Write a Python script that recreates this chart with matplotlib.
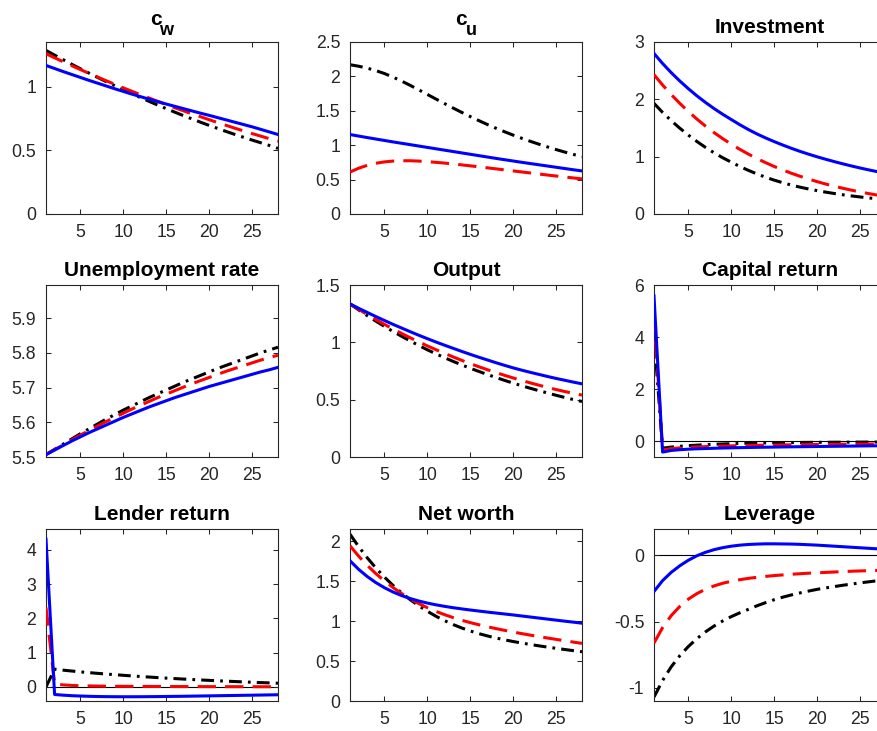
import numpy as np
import matplotlib
matplotlib.use('Agg')
import matplotlib.pyplot as plt

plt.rcParams['font.family'] = ['Liberation Sans', 'DejaVu Sans']
plt.rcParams['axes.unicode_minus'] = False

periods = list(range(1, 29))

# c_w
cw_blue = [1.166, 1.142, 1.118, 1.095, 1.072, 1.049, 1.027, 1.005, 0.983, 0.962, 0.941, 0.921, 0.901, 0.882,
           0.863, 0.845, 0.827, 0.809, 0.791, 0.774, 0.756, 0.738, 0.720, 0.702, 0.684, 0.664, 0.644, 0.624]
cw_red = [1.258, 1.226, 1.195, 1.164, 1.134, 1.104, 1.075, 1.046, 1.018, 0.990, 0.963, 0.936, 0.910, 0.884,
          0.859, 0.834, 0.810, 0.786, 0.763, 0.740, 0.717, 0.695, 0.673, 0.652, 0.631, 0.611, 0.591, 0.571]
cw_black = [1.284, 1.247, 1.211, 1.175, 1.140, 1.106, 1.072, 1.039, 1.007, 0.975, 0.944, 0.914, 0.884, 0.855,
            0.827, 0.799, 0.772, 0.746, 0.720, 0.695, 0.671, 0.647, 0.624, 0.602, 0.580, 0.559, 0.538, 0.515]

# c_u
cu_blue = [1.155, 1.133, 1.111, 1.090, 1.069, 1.048, 1.028, 1.008, 0.988, 0.968, 0.948, 0.928, 0.908, 0.888,
           0.868, 0.848, 0.828, 0.808, 0.789, 0.770, 0.751, 0.733, 0.715, 0.697, 0.679, 0.661, 0.643, 0.626]
cu_red = [0.610, 0.665, 0.707, 0.737, 0.757, 0.769, 0.774, 0.774, 0.769, 0.761, 0.751, 0.740, 0.727, 0.714,
          0.700, 0.686, 0.671, 0.656, 0.641, 0.626, 0.611, 0.596, 0.581, 0.566, 0.552, 0.538, 0.524, 0.510]
cu_black = [2.170, 2.148, 2.120, 2.085, 2.042, 1.990, 1.932, 1.870, 1.805, 1.738, 1.671, 1.605, 1.540, 1.477,
            1.416, 1.357, 1.300, 1.246, 1.195, 1.146, 1.100, 1.056, 1.014, 0.974, 0.936, 0.900, 0.866, 0.834]

# Investment
inv_blue = [2.800, 2.625, 2.466, 2.320, 2.185, 2.060, 1.945, 1.838, 1.739, 1.647, 1.556, 1.472, 1.395, 1.326,
            1.262, 1.202, 1.145, 1.092, 1.043, 0.997, 0.954, 0.913, 0.874, 0.837, 0.802, 0.769, 0.738, 0.709]
inv_red = [2.430, 2.250, 2.084, 1.930, 1.787, 1.655, 1.532, 1.419, 1.314, 1.217, 1.127, 1.043, 0.966, 0.895,
           0.828, 0.767, 0.710, 0.658, 0.609, 0.564, 0.522, 0.484, 0.448, 0.415, 0.384, 0.356, 0.329, 0.305]
inv_black = [1.930, 1.772, 1.628, 1.497, 1.376, 1.264, 1.161, 1.067, 0.981, 0.903, 0.828, 0.760, 0.698, 0.641,
             0.590, 0.545, 0.504, 0.468, 0.436, 0.407, 0.381, 0.357, 0.335, 0.315, 0.297, 0.280, 0.265, 0.251]

# Unemployment rate
un_blue = [5.507, 5.520, 5.533, 5.546, 5.558, 5.570, 5.581, 5.592, 5.603, 5.614, 5.624, 5.634, 5.644, 5.653,
           5.662, 5.671, 5.679, 5.687, 5.695, 5.703, 5.710, 5.717, 5.724, 5.731, 5.738, 5.745, 5.751, 5.758]
un_red = [5.507, 5.521, 5.535, 5.549, 5.563, 5.576, 5.589, 5.602, 5.614, 5.626, 5.638, 5.649, 5.660, 5.671,
          5.681, 5.691, 5.701, 5.711, 5.720, 5.729, 5.738, 5.747, 5.755, 5.763, 5.771, 5.779, 5.786, 5.793]
un_black = [5.507, 5.522, 5.537, 5.552, 5.567, 5.581, 5.595, 5.609, 5.622, 5.635, 5.647, 5.659, 5.671, 5.682,
            5.693, 5.704, 5.715, 5.725, 5.735, 5.745, 5.755, 5.764, 5.773, 5.782, 5.791, 5.800, 5.808, 5.816]

# Output
out_blue = [1.335, 1.297, 1.261, 1.225, 1.191, 1.157, 1.125, 1.093, 1.062, 1.032, 1.003, 0.975, 0.948, 0.921,
            0.895, 0.870, 0.846, 0.822, 0.799, 0.777, 0.757, 0.738, 0.720, 0.702, 0.685, 0.669, 0.653, 0.638]
out_red = [1.335, 1.288, 1.243, 1.199, 1.157, 1.117, 1.078, 1.040, 1.004, 0.969, 0.936, 0.904, 0.873, 0.843,
           0.814, 0.787, 0.761, 0.736, 0.712, 0.689, 0.667, 0.646, 0.626, 0.606, 0.588, 0.571, 0.555, 0.540]
out_black = [1.335, 1.283, 1.233, 1.185, 1.139, 1.095, 1.053, 1.012, 0.973, 0.935, 0.900, 0.866, 0.834, 0.803,
             0.774, 0.746, 0.719, 0.693, 0.668, 0.644, 0.621, 0.599, 0.578, 0.558, 0.538, 0.519, 0.501, 0.484]

# Capital return
cap_blue = [5.58, -0.41, -0.35, -0.32, -0.30, -0.285, -0.275, -0.265, -0.255, -0.248, -0.241, -0.235, -0.229,
            -0.224, -0.219, -0.214, -0.209, -0.205, -0.201, -0.197, -0.193, -0.189, -0.185, -0.181, -0.177,
            -0.173, -0.169, -0.165]
cap_red = [4.91, -0.33, -0.28, -0.25, -0.23, -0.215, -0.20, -0.19, -0.18, -0.172, -0.165, -0.158, -0.152,
           -0.146, -0.141, -0.136, -0.131, -0.127, -0.123, -0.119, -0.116, -0.113, -0.110, -0.107, -0.104,
           -0.101, -0.099, -0.097]
cap_black = [4.05, -0.26, -0.22, -0.19, -0.165, -0.145, -0.128, -0.113, -0.100, -0.089, -0.080, -0.072, -0.065,
             -0.059, -0.054, -0.050, -0.046, -0.043, -0.040, -0.038, -0.036, -0.034, -0.032, -0.030, -0.029,
             -0.028, -0.027, -0.026]

# Lender return
len_blue = [4.31, -0.22, -0.24, -0.255, -0.265, -0.273, -0.279, -0.283, -0.285, -0.286, -0.286, -0.285, -0.283,
            -0.281, -0.278, -0.275, -0.272, -0.268, -0.264, -0.260, -0.256, -0.252, -0.248, -0.244, -0.240,
            -0.236, -0.232, -0.228]
len_red = [2.32, 0.09, 0.06, 0.045, 0.035, 0.030, 0.025, 0.022, 0.020, 0.018, 0.017, 0.016, 0.015, 0.014,
           0.013, 0.012, 0.011, 0.010, 0.010, 0.009, 0.009, 0.008, 0.008, 0.007, 0.007, 0.006, 0.006, 0.005]
len_black = [0.0, 0.52, 0.49, 0.465, 0.44, 0.418, 0.397, 0.377, 0.358, 0.340, 0.322, 0.305, 0.289, 0.273,
             0.258, 0.244, 0.230, 0.217, 0.204, 0.192, 0.180, 0.169, 0.158, 0.147, 0.137, 0.127, 0.118, 0.109]

# Net worth
nw_blue = [1.757, 1.650, 1.560, 1.484, 1.420, 1.366, 1.321, 1.284, 1.253, 1.227, 1.205, 1.186, 1.169, 1.154,
           1.140, 1.127, 1.114, 1.102, 1.090, 1.078, 1.065, 1.052, 1.039, 1.026, 1.013, 1.000, 0.988, 0.975]
nw_red = [1.945, 1.815, 1.700, 1.597, 1.505, 1.422, 1.347, 1.280, 1.221, 1.169, 1.123, 1.082, 1.045, 1.012,
          0.982, 0.955, 0.930, 0.907, 0.885, 0.864, 0.844, 0.825, 0.807, 0.789, 0.772, 0.755, 0.738, 0.722]
nw_black = [2.090, 1.935, 1.795, 1.668, 1.553, 1.449, 1.355, 1.270, 1.193, 1.124, 1.062, 1.007, 0.958, 0.915,
            0.877, 0.844, 0.815, 0.789, 0.766, 0.745, 0.726, 0.708, 0.691, 0.675, 0.660, 0.645, 0.631, 0.617]

# Leverage
lev_blue = [-0.272, -0.190, -0.128, -0.078, -0.036, -0.002, 0.024, 0.044, 0.059, 0.070, 0.078, 0.083, 0.086,
            0.088, 0.088, 0.087, 0.086, 0.084, 0.081, 0.078, 0.074, 0.070, 0.066, 0.062, 0.058, 0.054, 0.050, 0.046]
lev_red = [-0.662, -0.545, -0.455, -0.385, -0.330, -0.288, -0.255, -0.230, -0.210, -0.195, -0.183, -0.173,
           -0.165, -0.158, -0.152, -0.147, -0.142, -0.138, -0.134, -0.131, -0.128, -0.125, -0.122, -0.119,
           -0.117, -0.115, -0.113, -0.111]
lev_black = [-1.070, -0.945, -0.842, -0.758, -0.688, -0.628, -0.577, -0.533, -0.495, -0.462, -0.433, -0.407,
             -0.380, -0.356, -0.334, -0.315, -0.298, -0.283, -0.269, -0.256, -0.245, -0.235, -0.225, -0.216,
             -0.207, -0.199, -0.191, -0.184]

titles = ['c_w', 'c_u', 'Investment', 'Unemployment rate', 'Output', 'Capital return',
          'Lender return', 'Net worth', 'Leverage']
series = [(cw_blue, cw_red, cw_black), (cu_blue, cu_red, cu_black), (inv_blue, inv_red, inv_black),
          (un_blue, un_red, un_black), (out_blue, out_red, out_black), (cap_blue, cap_red, cap_black),
          (len_blue, len_red, len_black), (nw_blue, nw_red, nw_black), (lev_blue, lev_red, lev_black)]
ylims = [(0, 1.35), (0, 2.5), (0, 3), (5.5, 5.995), (0, 1.5), (-0.6, 6), (-0.41, 4.61), (0, 2.155), (-1.1, 0.2)]
yticks = [[0, 0.5, 1], [0, 0.5, 1, 1.5, 2, 2.5], [0, 1, 2, 3], [5.5, 5.6, 5.7, 5.8, 5.9],
          [0, 0.5, 1, 1.5], [0, 2, 4, 6], [0, 1, 2, 3, 4], [0, 0.5, 1, 1.5, 2], [-1, -0.5, 0]]
zero_line = [False, False, False, False, False, True, True, False, True]

W, H = 877, 731
fig = plt.figure(figsize=(W / 100, H / 100), dpi=100)

lefts = [46, 350, 654]
tops = [42, 285, 529]
aw, ah = 232, 172
grey = '#262626'

for i in range(9):
    r, c = divmod(i, 3)
    # right column runs past the figure edge, as in the original crop
    ax = fig.add_axes([lefts[c] / W, 1 - (tops[r] + ah) / H, aw / W, ah / H])
    blue, red, black = series[i]
    if zero_line[i]:
        ax.axhline(0, color='black', lw=0.8, zorder=1)
    ax.plot(periods, black, color='black', lw=2.2, dashes=(4.2, 2.0, 0.9, 2.0), zorder=2)
    ax.plot(periods, red, color='red', lw=2.2, dashes=(6, 3), zorder=3)
    ax.plot(periods, blue, color='blue', lw=2.2, zorder=4)
    ax.set_xlim(1, 28)
    ax.set_ylim(*ylims[i])
    ax.set_xticks([5, 10, 15, 20, 25])
    ax.set_yticks(yticks[i])
    ax.set_yticklabels(['%g' % v for v in yticks[i]])
    ax.tick_params(direction='in', top=True, right=True, length=3.5, width=0.75,
                   labelsize=12.7, colors=grey)
    ax.tick_params(axis='x', pad=7.5)
    ax.tick_params(axis='y', pad=7)
    for s in ax.spines.values():
        s.set_color(grey)
        s.set_linewidth(0.8)
    t = titles[i]
    if '_' in t:
        base, sub = t.split('_')
        cx = 0.476 if c == 0 else 0.479
        ax.text(cx, 1 + 17 / ah, base, transform=ax.transAxes, ha='center', va='baseline',
                fontsize=15, fontweight='bold')
        ax.text(cx + 0.043, 1 + 7 / ah, sub, transform=ax.transAxes, ha='center', va='baseline',
                fontsize=13, fontweight='bold')
    else:
        ax.set_title(t, fontsize=15, fontweight='bold', pad=6.3)

fig.savefig('out.png', dpi=100)
